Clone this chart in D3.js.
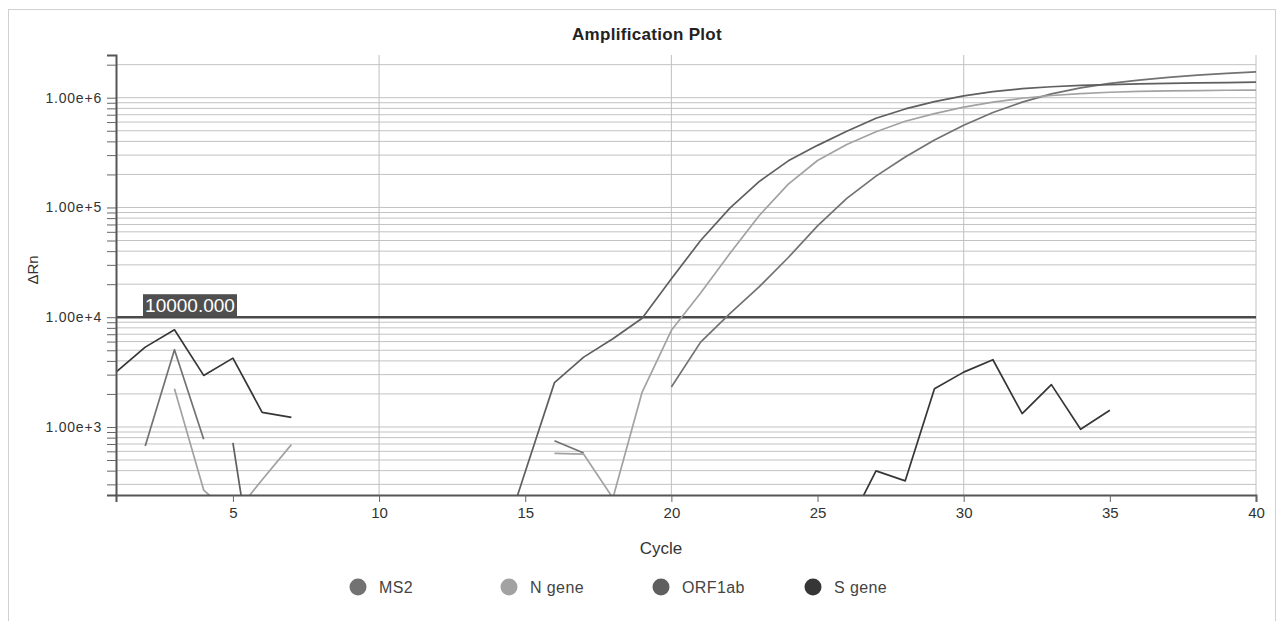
<!DOCTYPE html>
<html>
<head>
<meta charset="utf-8">
<script src="https://cdn.jsdelivr.net/npm/d3@7"></script>
<style>
  body { margin: 0; background: white; }
  text { font-family: "Liberation Sans", Arial, sans-serif; }
</style>
</head>
<body>
<div id="amp-plot"></div>
<script>
let width = 1284, height = 621;

let margin = {
  top: 55,
  bottom: 126,
  right: 28,
  left: 116
};

// data (null = no positive value, not drawn)
let cycles = [1, 2, 3, 4, 5, 6, 7, 8, 9, 10, 11, 12, 13, 14, 15, 16, 17, 18, 19, 20,
  21, 22, 23, 24, 25, 26, 27, 28, 29, 30, 31, 32, 33, 34, 35, 36, 37, 38, 39, 40];

let ms2 = [null, 672, 5060, 773, null, null, null, null, null, null,
  null, null, null, null, null, 750, 580, null, null, 2310,
  5930, 10800, 18900, 35000, 68000, 121000, 193000, 288000, 412000, 562000,
  733000, 912000, 1084000, 1230000, 1350000, 1445000, 1531000, 1603000, 1667000, 1722000];

let nGene = [null, null, 2230, 266, 154, 331, 690, null, null, null,
  null, null, null, null, null, 575, 565, 225, 2080, 7600,
  16600, 38000, 84000, 163000, 268000, 375000, 490000, 610000, 716000, 822000,
  912000, 989000, 1047000, 1089000, 1122000, 1143000, 1153000, 1161000, 1169000, 1175000];

let orf1ab = [null, null, null, null, 716, 14, null, null, null, null,
  null, null, null, 60, 390, 2535, 4330, 6360, 9800, 22400,
  50000, 98600, 172000, 266000, 368000, 494000, 650000, 790000, 920000, 1040000,
  1135000, 1208000, 1259000, 1294000, 1318000, 1337000, 1352000, 1365000, 1374000, 1384000];

let sGene = [3160, 5340, 7680, 2950, 4240, 1360, 1225, null, null, null,
  null, null, null, null, null, null, null, null, null, null,
  null, null, null, null, null, 119, 398, 323, 2230, 3160,
  4100, 1325, 2430, 952, 1418, null, null, null, null, null];

let seriesNames = ['MS2', 'N gene', 'ORF1ab', 'S gene'];
let seriesColors = ['#727272', '#a2a2a2', '#5f5f5f', '#363636'];
let seriesValues = [ms2, nGene, orf1ab, sGene];

let threshold = 10000;
let xTicks = [5, 10, 15, 20, 25, 30, 35, 40];
let xGrid = [10, 20, 30, 40];

let svg = d3.select('#amp-plot')
  .append('svg')
  .attr('width', width)
  .attr('height', height)
  .style('background', 'white');

// outer frame
svg.append('rect')
  .attr('x', 8.5)
  .attr('y', 9.5)
  .attr('width', 1267)
  .attr('height', 640)
  .attr('fill', 'none')
  .attr('stroke', '#d0d0d0');

let xscale = d3.scaleLinear()
  .domain([1, 40])
  .range([margin.left, width - margin.right]);

let yscale = d3.scaleLog()
  .domain([240, 2450000])
  .range([height - margin.bottom, margin.top]);

// every 1..9 x 10^k inside the domain
let yTicks = [];
for (let k = 2; k <= 6; k++) {
  for (let m = 1; m <= 9; m++) {
    let v = m * Math.pow(10, k);
    if (v >= 240 && v <= 2450000) yTicks.push(v);
  }
}

let grid = svg.append('g');

grid.selectAll('.hgrid')
  .data(yTicks)
  .enter()
  .append('line')
  .attr('x1', margin.left)
  .attr('x2', width - margin.right)
  .attr('y1', d => yscale(d))
  .attr('y2', d => yscale(d))
  .attr('stroke', '#c2c2c2')
  .attr('stroke-width', 1);

grid.selectAll('.vgrid')
  .data(xGrid)
  .enter()
  .append('line')
  .attr('x1', d => xscale(d))
  .attr('x2', d => xscale(d))
  .attr('y1', margin.top)
  .attr('y2', height - margin.bottom)
  .attr('stroke', '#c0c0c0')
  .attr('stroke-width', 1);

svg.append('clipPath')
  .attr('id', 'plot-clip')
  .append('rect')
  .attr('x', margin.left)
  .attr('y', margin.top)
  .attr('width', width - margin.left - margin.right)
  .attr('height', height - margin.top - margin.bottom);

// threshold
svg.append('line')
  .attr('x1', margin.left)
  .attr('x2', width - margin.right)
  .attr('y1', yscale(threshold))
  .attr('y2', yscale(threshold))
  .attr('stroke', '#4a4a4a')
  .attr('stroke-width', 2.5);

let line = d3.line()
  .defined(d => d.v != null)
  .x(d => xscale(d.c))
  .y(d => yscale(d.v));

svg.append('g')
  .attr('clip-path', 'url(#plot-clip)')
  .selectAll('path')
  .data(seriesValues)
  .enter()
  .append('path')
  .attr('d', vals => line(vals.map((v, i) => ({ c: cycles[i], v: v }))))
  .attr('fill', 'none')
  .attr('stroke', (d, i) => seriesColors[i])
  .attr('stroke-width', 1.7)
  .attr('stroke-linejoin', 'round');

// axes
let yAxis = svg.append('g')
  .attr('transform', `translate(${margin.left}, 0)`)
  .call(d3.axisLeft(yscale)
    .tickValues(yTicks)
    .tickSize(9)
    .tickSizeOuter(9)
    .tickFormat(d => Math.log10(d) % 1 === 0 ? d3.format('.2e')(d) : ''));

let xAxis = svg.append('g')
  .attr('transform', `translate(0, ${height - margin.bottom})`)
  .call(d3.axisBottom(xscale)
    .tickValues(xTicks)
    .tickSize(7)
    .tickSizeOuter(7));

[yAxis, xAxis].forEach(ax => {
  ax.select('.domain').attr('stroke', '#555').attr('stroke-width', 2);
  ax.selectAll('.tick line').attr('stroke', '#666');
  ax.selectAll('.tick text')
    .attr('fill', '#333')
    .style('font-family', '"Liberation Sans", Arial, sans-serif');
});

yAxis.selectAll('.tick text')
  .style('font-size', '14px')
  .style('letter-spacing', '0.8px')
  .attr('x', -14);

xAxis.selectAll('.tick text')
  .style('font-size', '15px')
  .attr('y', 12);

// threshold label
let thrY = yscale(threshold);
svg.append('rect')
  .attr('x', 143)
  .attr('y', thrY - 23)
  .attr('width', 94)
  .attr('height', 22)
  .attr('fill', '#4f4f4f');

svg.append('text')
  .text('10000.000')
  .attr('x', 190)
  .attr('y', thrY - 5)
  .attr('text-anchor', 'middle')
  .attr('fill', 'white')
  .style('font-size', '19px');

svg.append('text')
  .text('Amplification Plot')
  .attr('x', 647)
  .attr('y', 40)
  .attr('text-anchor', 'middle')
  .attr('fill', '#222')
  .style('font-size', '17px')
  .style('letter-spacing', '0.3px')
  .style('font-weight', 'bold');

svg.append('text')
  .text('Cycle')
  .attr('x', 661)
  .attr('y', 554)
  .attr('text-anchor', 'middle')
  .attr('fill', '#333')
  .style('font-size', '17px');

svg.append('text')
  .text('ΔRn')
  .attr('x', -270)
  .attr('y', 38)
  .attr('transform', 'rotate(-90)')
  .attr('text-anchor', 'middle')
  .attr('fill', '#333')
  .style('font-size', '15px');

// legend
let legendX = [358, 509, 661, 813];

let legend = svg.selectAll('.legend')
  .data(seriesNames)
  .enter()
  .append('g')
  .attr('transform', (d, i) => `translate(${legendX[i]}, 587)`);

legend.append('circle')
  .attr('r', 8.5)
  .attr('fill', (d, i) => seriesColors[i]);

legend.append('text')
  .text(d => d)
  .attr('x', 21)
  .attr('y', 6)
  .attr('fill', '#444')
  .style('font-size', '16px')
  .style('letter-spacing', '0.4px');
</script>
</body>
</html>
